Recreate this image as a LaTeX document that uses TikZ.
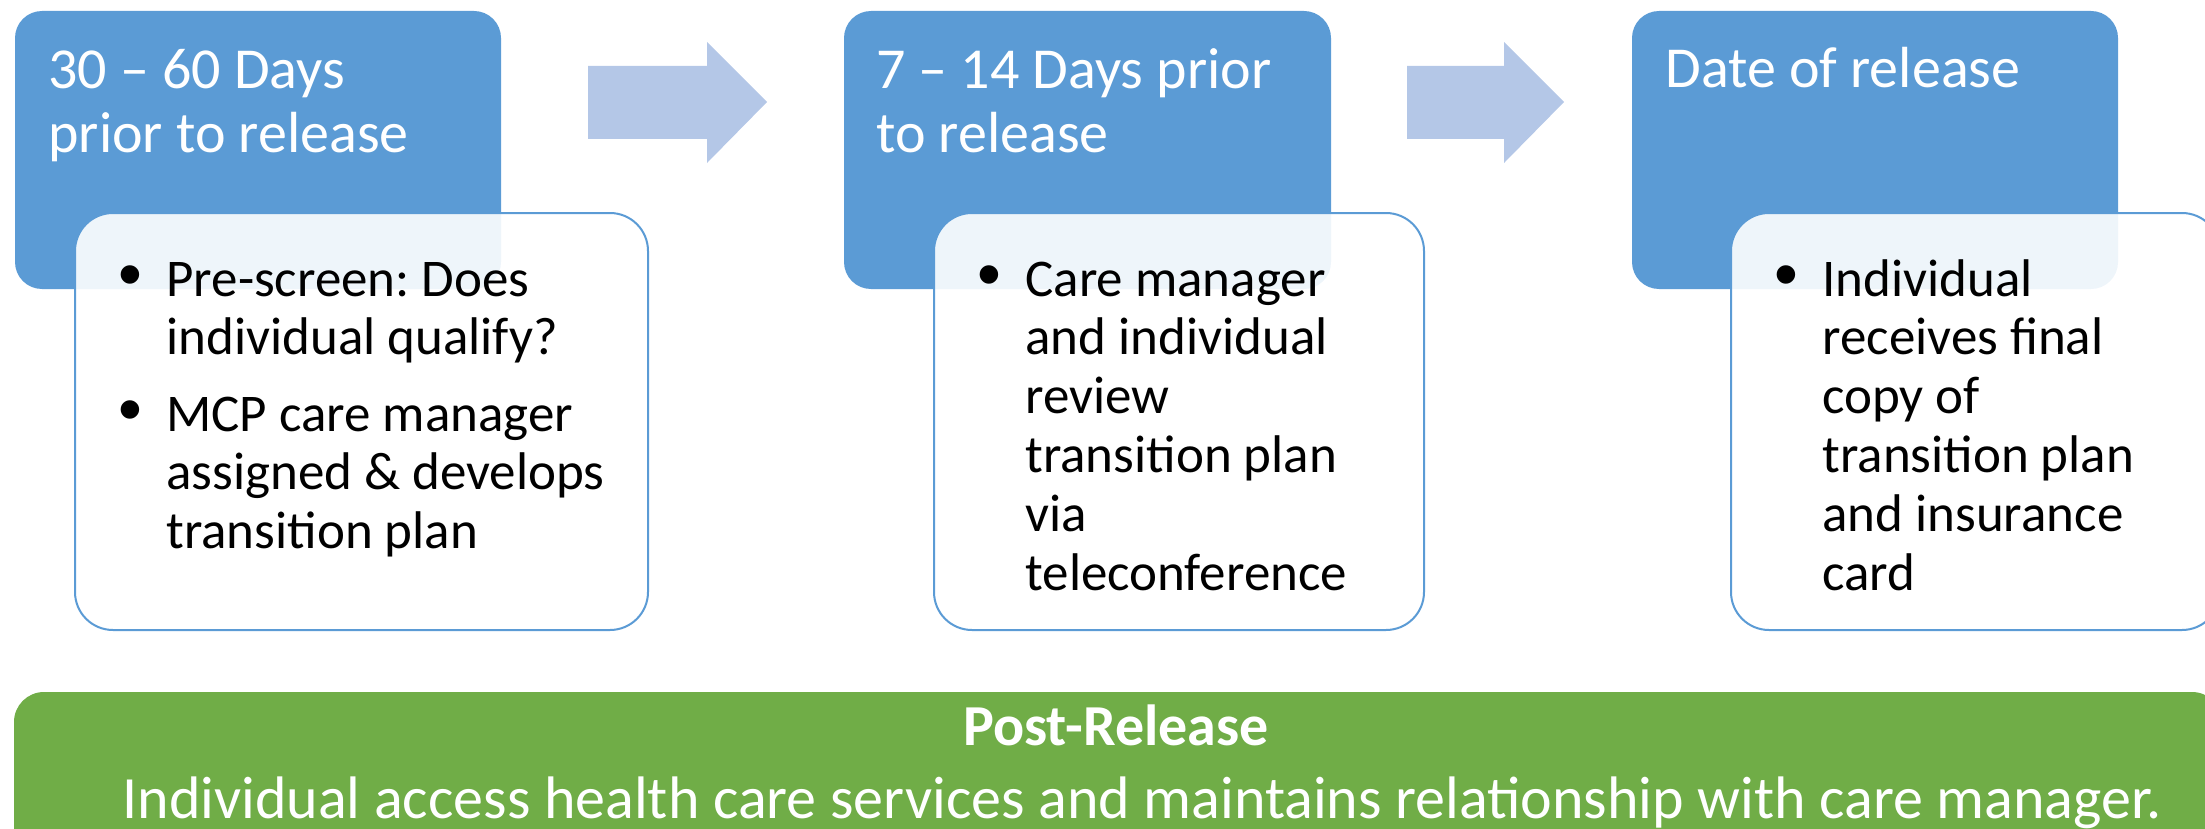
\documentclass[tikz,border=0pt]{standalone}
\usepackage{fontspec}
\setmainfont{Carlito}
\newfontfamily\bulletfont{Liberation Sans}
\usetikzlibrary{positioning}
\definecolor{phaseblue}{HTML}{5B9BD5}
\definecolor{arrowblue}{HTML}{B4C7E7}
\definecolor{postgreen}{HTML}{70AD47}
\frenchspacing
\tikzset{
  phase/.style={fill=phaseblue, rounded corners=13.5pt},
  detail/.style={draw=phaseblue, line width=1pt, fill=white, fill opacity=0.9, rounded corners=19pt},
  headtxt/.style={anchor=base west, align=left, inner sep=0pt, text=white, font=\fontsize{29}{32}\selectfont},
  bodytxt/.style={anchor=base west, align=left, inner sep=0pt, font=\fontsize{26.5}{29.4}\selectfont},
  dot/.style={inner sep=0pt, font=\bulletfont\fontsize{34}{36}\selectfont},
  posttxt/.style={anchor=base, inner sep=0pt, text=white, font=\fontsize{29}{32}\selectfont},
}

\begin{document}
\begin{tikzpicture}[x=0.5pt,y=-0.5pt]
\useasboundingbox (0,0) rectangle (2205,829);
\clip (0,0) rectangle (2205,829);
% phase boxes and detail boxes
\path[phase] (15,11) rectangle (501,289);
\path[detail] (75,213) rectangle (648,630);
\path[phase] (844,11) rectangle (1331,289);
\path[detail] (934,213) rectangle (1424,630);
\path[phase] (1632,11) rectangle (2118,289);
\path[detail] (1731,213) rectangle (2220,630);
% block arrows
\fill[arrowblue] (588,66) -- (707,66) -- (707,42) -- (767,102) -- (707,163) -- (707,139) -- (588,139) -- cycle;
\fill[arrowblue] (1407,66) -- (1504,66) -- (1504,42) -- (1564,102) -- (1504,163) -- (1504,139) -- (1407,139) -- cycle;
% post-release bar
\path[fill=postgreen, rounded corners=15pt] (14,692) rectangle (2222,900);

% headings (base = last line)
\node[headtxt] (h1) at (48,152) {30 -- 60 Days\\prior to release};
\node[headtxt] (h2) at (876,152) {7 -- 14 Days prior\\to release};
\node[headtxt] (h3) at (1665,88) {Date of release};

% bullets
\node[dot] (b1a) at (130,282) {•};
\node[bodytxt] (t1a) at (166,354.8) {Pre-screen: Does\\individual qualify?};
\node[dot] (b1b) at (130,417) {•};
\node[bodytxt] (t1b) at (166,548.6) {MCP care manager\\assigned \& develops\\transition plan};
\node[dot] (b2) at (989,282) {•};
\node[bodytxt] (t2) at (1025,590) {Care manager\\and individual\\review\\transition plan\\via\\teleconference};
\node[dot] (b3) at (1786,282) {•};
\node[bodytxt] (t3) at (1822,590) {Individual\\receives final\\copy of\\transition plan\\and insurance\\card};

% post-release text
\node[posttxt] (pt) at (1116,745) {\bfseries Post-Release};
\node[posttxt, font=\fontsize{30}{33}\selectfont] (pd) at (1142,818) {Individual access health care services and maintains relationship with care manager.};
\end{tikzpicture}
\end{document}
